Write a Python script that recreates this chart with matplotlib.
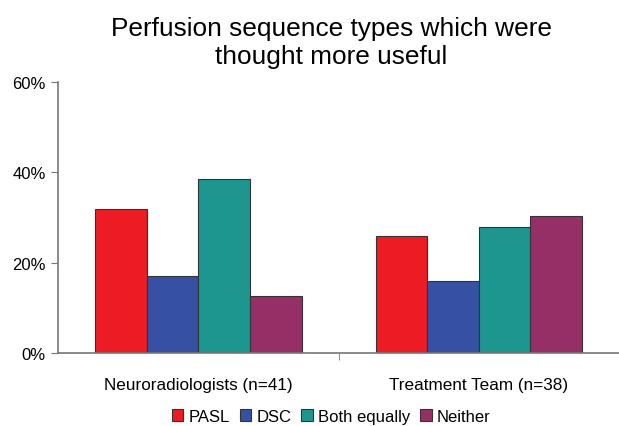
import numpy as np
import matplotlib.pyplot as plt

plt.rcParams['font.family'] = ['Liberation Sans', 'DejaVu Sans']

groups = ["Neuroradiologists (n=41)", "Treatment Team (n=38)"]
series = ["PASL", "DSC", "Both equally", "Neither"]
values = {
    "PASL": [31.9, 25.8],
    "DSC": [17.0, 15.9],
    "Both equally": [38.4, 27.8],
    "Neither": [12.7, 30.3],
}
colors = ["#ED1C24", "#3651A4", "#1E9690", "#952F65"]

fig = plt.figure(figsize=(6.19, 4.27), dpi=100)
ax = fig.add_axes([0.094, 0.171, 0.906, 0.635])

x = np.arange(len(groups))
w = 0.184
for i, s in enumerate(series):
    ax.bar(x + (i - 1.5) * w, values[s], w, color=colors[i], edgecolor="#333333",
           linewidth=0.8, label=s, zorder=2)

ax.set_xlim(-0.5, 1.5)
ax.set_ylim(0, 60)
ax.set_yticks([0, 20, 40, 60])
ax.set_yticklabels(["0%", "20%", "40%", "60%"])
ax.set_xticks(x)
ax.set_xticklabels(groups)
ax.set_xticks([0.5], minor=True)
ax.tick_params(axis="x", which="major", length=0, pad=17, labelsize=12.3)
ax.tick_params(axis="x", which="minor", length=5, color="#777777")
ax.tick_params(axis="y", length=5, color="#777777", labelsize=12, pad=4)

for sp in ["top", "right"]:
    ax.spines[sp].set_visible(False)
for sp in ["left", "bottom"]:
    ax.spines[sp].set_color("#777777")
    ax.spines[sp].set_linewidth(1.2)

fig.text(0.535, 0.899, "Perfusion sequence types which were\nthought more useful",
         ha="center", va="center", fontsize=18.9, linespacing=1.22)

fig.legend(loc="lower center", bbox_to_anchor=(0.535, -0.03), ncol=4, frameon=False,
           fontsize=12, handlelength=0.7, handleheight=0.7, handletextpad=0.3,
           columnspacing=0.6)

fig.savefig("out.png", dpi=100)
